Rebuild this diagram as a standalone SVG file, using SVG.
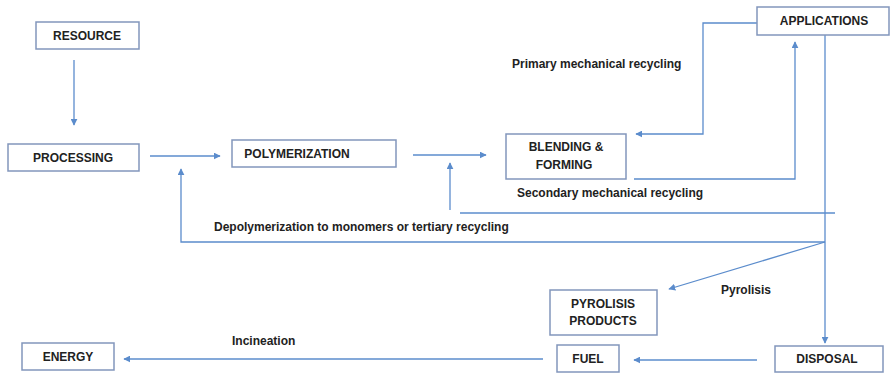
<svg xmlns="http://www.w3.org/2000/svg" width="891" height="374" viewBox="0 0 891 374">
<style>
.box{fill:#fff;stroke:#8296bc;stroke-width:1.5}
.t{font-family:"Liberation Sans",Arial,sans-serif;font-weight:bold;font-size:12px;fill:#222;text-anchor:middle;dominant-baseline:central}
.l{font-family:"Liberation Sans",Arial,sans-serif;font-weight:bold;font-size:12px;fill:#222}
.c{fill:none;stroke:#5b8ccc;stroke-width:1.3}
</style>
<defs>
<marker id="ah" viewBox="0 0 10 10" refX="9" refY="5" markerWidth="7" markerHeight="7" markerUnits="userSpaceOnUse" orient="auto">
<path d="M0,0 L10,5 L0,10 z" fill="#5b8ccc"/>
</marker>
</defs>
<rect width="891" height="374" fill="#fff"/>
<g id="connectors">
<path class="c" d="M74,60 V125" marker-end="url(#ah)"/>
<path class="c" d="M150,156 H220" marker-end="url(#ah)"/>
<path class="c" d="M413,155 H486" marker-end="url(#ah)"/>
<path class="c" d="M757,23 H703 V134 H636" marker-end="url(#ah)"/>
<path class="c" d="M634,179 H795 V42" marker-end="url(#ah)"/>
<path class="c" d="M825,35 V343" marker-end="url(#ah)"/>
<path class="c" d="M460,213 H835"/>
<path class="c" d="M450,210 V163" marker-end="url(#ah)"/>
<path class="c" d="M825,242 H181 V169" marker-end="url(#ah)"/>
<path class="c" d="M825,242 L669,289" marker-end="url(#ah)"/>
<path class="c" d="M757,360 H634" marker-end="url(#ah)"/>
<path class="c" d="M543,359 H124" marker-end="url(#ah)"/>
</g>
<g id="labels">
<text class="l" x="512" y="68">Primary mechanical recycling</text>
<text class="l" x="517" y="197">Secondary mechanical recycling</text>
<text class="l" x="214" y="231">Depolymerization to monomers or tertiary recycling</text>
<text class="l" x="721" y="294">Pyrolisis</text>
<text class="l" x="232" y="345">Incineation</text>
</g>
<g id="resource"><rect class="box" x="36" y="22" width="103" height="27"/><text class="t" x="87" y="35.5">RESOURCE</text></g>
<g id="processing"><rect class="box" x="8" y="144" width="131" height="27"/><text class="t" x="73" y="157.5">PROCESSING</text></g>
<g id="polymerization"><rect class="box" x="232" y="140" width="164" height="27"/><text class="t" x="297" y="153.5">POLYMERIZATION</text></g>
<g id="blending"><rect class="box" x="506" y="134" width="120" height="45"/><text class="t" x="566" y="147">BLENDING &amp;</text><text class="t" x="564" y="165">FORMING</text></g>
<g id="applications"><rect class="box" x="757" y="7" width="132" height="28"/><text class="t" x="824" y="21">APPLICATIONS</text></g>
<g id="pyrolisis-products"><rect class="box" x="550" y="290" width="107" height="45"/><text class="t" x="603" y="304">PYROLISIS</text><text class="t" x="603" y="321">PRODUCTS</text></g>
<g id="fuel"><rect class="box" x="557" y="345" width="62" height="27"/><text class="t" x="588" y="359">FUEL</text></g>
<g id="disposal"><rect class="box" x="775" y="346" width="108" height="26"/><text class="t" x="827" y="359">DISPOSAL</text></g>
<g id="energy"><rect class="box" x="22" y="343" width="92" height="27"/><text class="t" x="68" y="357">ENERGY</text></g>
</svg>
